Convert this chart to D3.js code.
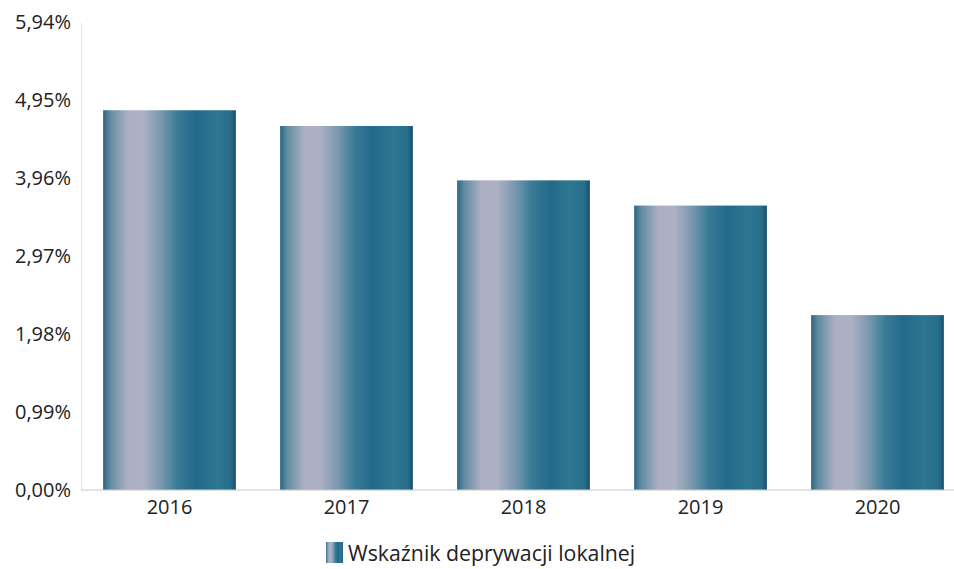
<!DOCTYPE html>
<html>
<head>
<meta charset="utf-8">
<script src="https://cdn.jsdelivr.net/npm/d3@7"></script>
<style>
  html, body { margin: 0; padding: 0; background: #ffffff; }
  svg { display: block; }
</style>
</head>
<body>
<svg id="chart" width="954" height="569"></svg>
<script>
const years = ['2016', '2017', '2018', '2019', '2020'];
const values = [4.82, 4.62, 3.93, 3.61, 2.22];
const yTicks = [0, 0.99, 1.98, 2.97, 3.96, 4.95, 5.94];
const seriesName = 'Wskaźnik deprywacji lokalnej';

const WIDTH = 954;
const HEIGHT = 569;
const FONT = '"Open Sans", "Noto Sans", sans-serif';
const FONT_SIZE = 20;
const LEGEND_FONT_SIZE = 21.3;
const margin = { top: 22, right: -12, bottom: 79, left: 81 };

const svg = d3.select('#chart');

const defs = svg.append('defs');
const grad = defs.append('linearGradient')
  .attr('id', 'barGrad')
  .attr('x1', '0%').attr('x2', '100%')
  .attr('y1', '0%').attr('y2', '0%');

[
  [0, '#2a6582'],
  [0.05, '#5f8aa1'],
  [0.18, '#abafc4'],
  [0.3, '#aeb1c5'],
  [0.44, '#7797ae'],
  [0.56, '#3a7b96'],
  [0.7, '#22698a'],
  [0.85, '#2e7791'],
  [0.96, '#276e8a'],
  [1, '#1b4d6c']
].forEach(([o, c]) => {
  grad.append('stop').attr('offset', o).attr('stop-color', c);
});

const x = d3.scaleBand()
  .domain(years)
  .range([margin.left, WIDTH - margin.right])
  .paddingInner(0.25)
  .paddingOuter(0.125);

const y = d3.scaleLinear()
  .domain([0, 5.94])
  .range([HEIGHT - margin.bottom, margin.top]);

const fmt = (v) => d3.format('.2f')(v).replace('.', ',') + '%';

// y axis (dotted line, no ticks)
const yAxis = svg.append('g')
  .attr('transform', `translate(${margin.left},0)`)
  .call(d3.axisLeft(y).tickValues(yTicks).tickFormat(fmt).tickSize(0).tickPadding(10));
yAxis.select('.domain')
  .attr('stroke', '#c8c8c8')
  .attr('stroke-dasharray', '1,1');
yAxis.selectAll('text')
  .attr('fill', '#222222')
  .attr('font-size', FONT_SIZE)
  .attr('font-family', FONT);

// bars
svg.append('g')
  .selectAll('rect')
  .data(values)
  .join('rect')
  .attr('x', (d, i) => x(years[i]))
  .attr('y', (d) => y(d))
  .attr('width', x.bandwidth())
  .attr('height', (d) => y(0) - y(d))
  .attr('fill', 'url(#barGrad)');

// x axis
const xAxis = svg.append('g')
  .attr('transform', `translate(0,${y(0)})`)
  .call(d3.axisBottom(x).tickSize(0).tickPadding(10));
xAxis.select('.domain')
  .attr('stroke', '#c8c8c8')
  .attr('d', `M${margin.left},0H${WIDTH}`);
xAxis.selectAll('text')
  .attr('fill', '#222222')
  .attr('font-size', FONT_SIZE)
  .attr('font-family', FONT);

// legend
const legend = svg.append('g')
  .attr('transform', 'translate(326,542)');
legend.append('rect')
  .attr('x', 0)
  .attr('y', 0)
  .attr('width', 17)
  .attr('height', 21)
  .attr('fill', 'url(#barGrad)');
legend.append('text')
  .attr('x', 22)
  .attr('y', 10.5)
  .attr('dominant-baseline', 'central')
  .attr('fill', '#222222')
  .attr('font-size', LEGEND_FONT_SIZE)
  .attr('font-family', FONT)
  .text(seriesName);
</script>
</body>
</html>
